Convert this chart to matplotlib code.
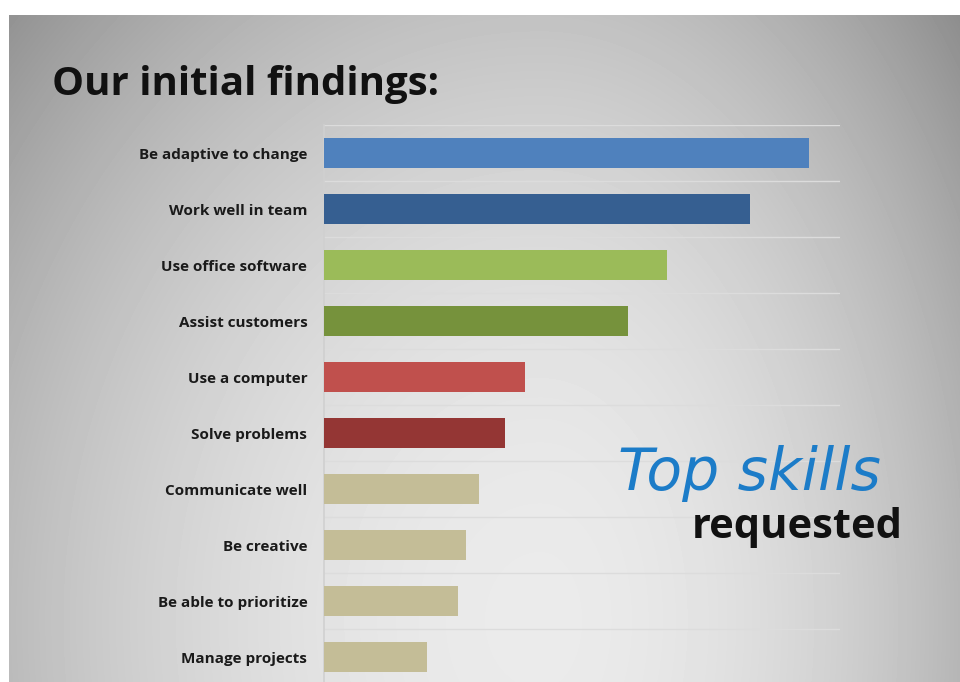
import numpy as np
import matplotlib.pyplot as plt

# chart data (top to bottom)
skills = ['Be adaptive to change', 'Work well in team', 'Use office software',
          'Assist customers', 'Use a computer', 'Solve problems',
          'Communicate well', 'Be creative', 'Be able to prioritize',
          'Manage projects']
scores = [94, 82.5, 66.5, 59, 39, 35, 30, 27.5, 26, 20]
colors = ['#4f81bd', '#365f91', '#9bbb59', '#76923c', '#c0504d', '#943634',
          '#c4bd97', '#c4bd97', '#c4bd97', '#c4bd97']

W, H = 960, 682
fig = plt.figure(figsize=(W / 100, H / 100), dpi=100)
fig.patch.set_facecolor('white')

# slide background: radial grey gradient, brightest low-centre
bg = fig.add_axes([9 / W, 0, (W - 9) / W, (H - 15) / H])
xx, yy = np.meshgrid(np.arange(9, W), np.arange(15, H))
dx = xx - 540.0
dx = np.where(dx > 0, dx * 1.4, dx * 1.05)
dy = (yy - 620.0) * 0.85
shade = np.clip(0.92 - 6.0e-7 * (dx ** 2 + dy ** 2), 0, 1)
bg.imshow(shade, cmap='gray', vmin=0, vmax=1, aspect='auto',
          interpolation='bilinear')
bg.axis('off')

fig.text(52 / W, 1 - 95 / H, 'Our initial findings:', fontsize=29,
         fontweight='bold', family='Open Sans', color='#111111',
         va='baseline')

# bar chart
ax = fig.add_axes([324 / W, 0, 516 / W, 1 - 125 / H])
ax.patch.set_alpha(0)
pos = np.arange(len(skills))
ax.barh(pos, scores, height=0.54, color=colors, zorder=3)
ax.set_xlim(0, 100)
ax.set_ylim(9.446, -0.5)
for g in np.arange(-0.5, 9, 1.0):
    ax.axhline(g, color='#dcdcdc', lw=1, zorder=1)
ax.set_yticks(pos)
ax.set_yticklabels(skills, fontsize=11, fontweight='bold',
                   family='Open Sans', color='#1a1a1a')
ax.tick_params(axis='y', length=0, pad=12)
ax.set_xticks([])
for s in ['top', 'right', 'bottom']:
    ax.spines[s].set_visible(False)
ax.spines['left'].set_color('#d0d0d0')
ax.spines['left'].set_linewidth(1.2)

fig.text(618 / W, 1 - 490 / H, 'Top skills', fontsize=42, style='oblique',
         family='DejaVu Sans', color='#1c7cc8', va='baseline')
fig.text(692 / W, 1 - 538 / H, 'requested', fontsize=30, fontweight='bold',
         family='Open Sans', color='#111111', va='baseline')

fig.savefig('out.png', dpi=100)
